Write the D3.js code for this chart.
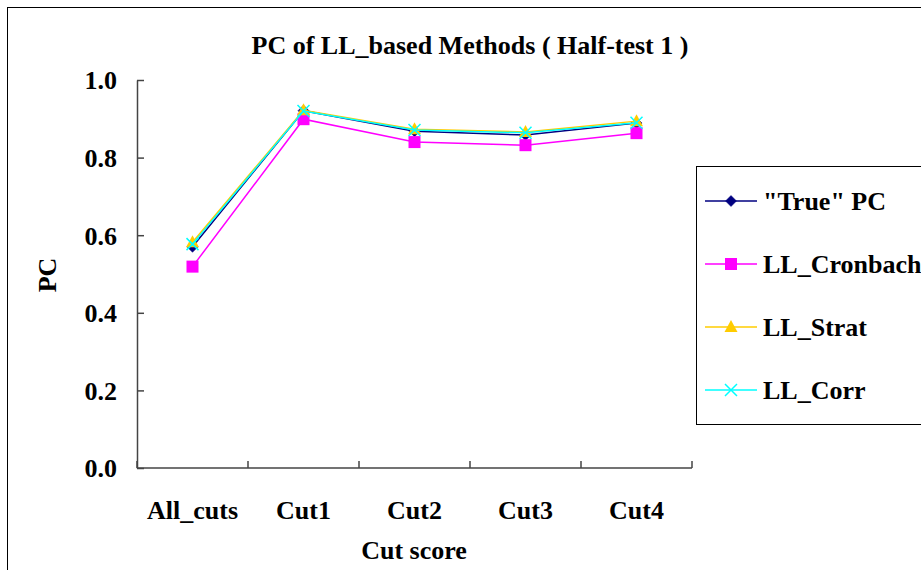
<!DOCTYPE html>
<html>
<head>
<meta charset="utf-8">
<script src="https://cdn.jsdelivr.net/npm/d3@7"></script>
</head>
<body style="margin:0;padding:0;background:#fff">
<svg id="chart" width="921" height="570" style="display:block"></svg>
<script>
const categories = ["All_cuts", "Cut1", "Cut2", "Cut3", "Cut4"];
const seriesNames = ["\"True\" PC", "LL_Cronbach", "LL_Strat", "LL_Corr"];
const truePC     = [0.570, 0.921, 0.868, 0.858, 0.889];
const llCronbach = [0.519, 0.899, 0.840, 0.832, 0.863];
const llStrat    = [0.582, 0.922, 0.873, 0.866, 0.894];
const llCorr     = [0.577, 0.920, 0.871, 0.864, 0.890];
const yTicks = [0.0, 0.2, 0.4, 0.6, 0.8, 1.0];
const colors = ["#000080", "#FF00FF", "#FFCC00", "#00FFFF"];
const symbols = ["diamond", "square", "triangle", "cross"];
const seriesValues = [truePC, llCronbach, llStrat, llCorr];

const FONT = '"Liberation Serif"';
const FS = "26px";
const svg = d3.select("#chart");
function styleText(sel) {
  return sel.style("font-family", FONT).style("font-weight", "bold").style("font-size", FS).style("fill", "#000");
}

// outer chart border
svg.append("rect").attr("x", 7.5).attr("y", 7.5).attr("width", 930).attr("height", 580)
  .attr("fill", "#fff").attr("stroke", "#000").attr("stroke-width", 1);

const pLeft = 137, pRight = 692, pTop = 80, pBottom = 468;
const x = d3.scaleBand().domain(categories).range([pLeft, pRight]).padding(0);
const y = d3.scaleLinear().domain([0, 1]).range([pBottom, pTop]);

// title
styleText(svg.append("text").attr("x", 470).attr("y", 54).attr("text-anchor", "middle"))
  .text("PC of LL_based Methods ( Half-test 1 )");

// y axis
const yAxis = d3.axisLeft(y).tickValues(yTicks).tickFormat(d3.format(".1f")).tickSizeInner(-7).tickSizeOuter(0).tickPadding(20);
const gy = svg.append("g").attr("transform", `translate(${pLeft},0)`).call(yAxis);
gy.attr("font-family", null).attr("font-size", null);
gy.select(".domain").attr("stroke", "#444").attr("stroke-width", 1.5);
gy.selectAll(".tick line").attr("stroke", "#444").attr("stroke-width", 1.5);
styleText(gy.selectAll(".tick text")).attr("dy", "0.34em");

// x axis
const xTickPos = d3.range(categories.length + 1).map(i => pLeft + i * x.bandwidth());
const gx = svg.append("g");
gx.append("line").attr("x1", pLeft).attr("x2", pRight).attr("y1", pBottom).attr("y2", pBottom)
  .attr("stroke", "#444").attr("stroke-width", 1.5);
gx.selectAll("line.tk").data(xTickPos).join("line").attr("class", "tk")
  .attr("x1", d => d).attr("x2", d => d).attr("y1", pBottom).attr("y2", pBottom - 7)
  .attr("stroke", "#444").attr("stroke-width", 1.5);
styleText(gx.selectAll("text.cat").data(categories).join("text").attr("class", "cat")
  .attr("x", d => x(d) + x.bandwidth() / 2).attr("y", 519).attr("text-anchor", "middle"))
  .text(d => d);

// axis titles
styleText(svg.append("text").attr("x", 414).attr("y", 559).attr("text-anchor", "middle")).text("Cut score");
styleText(svg.append("text").attr("transform", "translate(56,275) rotate(-90)").attr("text-anchor", "middle")).text("PC");

// marker drawing
function drawMarker(g, type, cx, cy, color) {
  if (type === "diamond") {
    g.append("path").attr("d", `M${cx},${cy-5.5}L${cx+5.5},${cy}L${cx},${cy+5.5}L${cx-5.5},${cy}Z`)
      .attr("fill", color).attr("stroke", color).attr("stroke-width", 0.5);
  } else if (type === "square") {
    g.append("rect").attr("x", cx - 6).attr("y", cy - 6).attr("width", 12).attr("height", 12).attr("fill", color);
  } else if (type === "triangle") {
    g.append("path").attr("d", `M${cx},${cy-7}L${cx+6.5},${cy+5}L${cx-6.5},${cy+5}Z`).attr("fill", color);
  } else if (type === "cross") {
    g.append("path").attr("d", `M${cx-6},${cy-6}L${cx+6},${cy+6}M${cx+6},${cy-6}L${cx-6},${cy+6}`)
      .attr("stroke", color).attr("stroke-width", 1.5).attr("fill", "none");
  }
}

const line = d3.line().x((d, i) => x(categories[i]) + x.bandwidth() / 2).y(d => y(d));
seriesValues.forEach((vals, si) => {
  const g = svg.append("g");
  g.append("path").datum(vals).attr("d", line).attr("fill", "none")
    .attr("stroke", colors[si]).attr("stroke-width", 1.5);
  vals.forEach((v, i) => drawMarker(g, symbols[si], x(categories[i]) + x.bandwidth() / 2, y(v), colors[si]));
});

// legend
const lg = svg.append("g");
lg.append("rect").attr("x", 696.5).attr("y", 166.5).attr("width", 260).attr("height", 258)
  .attr("fill", "#fff").attr("stroke", "#000").attr("stroke-width", 1);
const legY = [201, 264, 327, 390];
seriesNames.forEach((name, i) => {
  lg.append("line").attr("x1", 705).attr("x2", 757).attr("y1", legY[i]).attr("y2", legY[i])
    .attr("stroke", colors[i]).attr("stroke-width", 1.5);
  drawMarker(lg, symbols[i], 731, legY[i], colors[i]);
  styleText(lg.append("text").attr("x", 763).attr("y", legY[i]).attr("dy", "0.34em")).text(name);
});
</script>
</body>
</html>
